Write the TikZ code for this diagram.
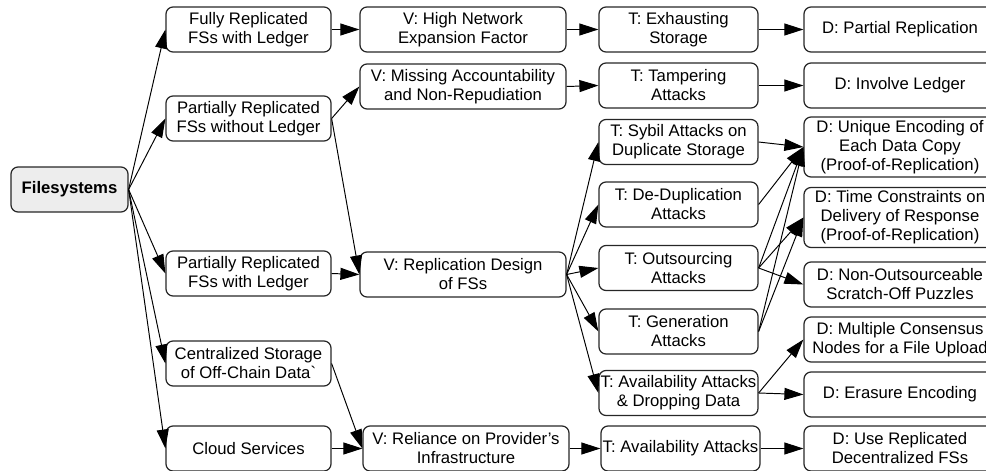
\documentclass[tikz,border=0pt]{standalone}
\usepackage{fontspec}
\setmainfont{Liberation Sans}
\usetikzlibrary{arrows.meta}
\begin{document}
\begin{tikzpicture}[
  box/.style={draw=black!85,line width=0.7pt,rounded corners=4pt,align=center,
    inner sep=0pt,minimum height=0.9cm,font=\fontsize{9.5}{10.8}\selectfont},
  sysbox/.style={box,minimum width=3.3cm},
  vulnbox/.style={box,minimum width=4.12cm},
  threatbox/.style={box,minimum width=3.18cm},
  defbox/.style={box,minimum width=3.84cm},
  link/.style={-{Triangle[length=0.38cm,width=0.24cm]},line width=0.55pt}
]
\useasboundingbox (0,0) rectangle (19.72,9.4);

% Root
\node[box,fill=black!7,minimum width=2.34cm,font=\fontsize{9.5}{10.8}\selectfont\bfseries] (fs) at (1.39,5.61) {Filesystems};

% Kinds of filesystems
\node[sysbox] (frl)   at (4.97,8.81) {Fully Replicated\\FSs with Ledger};
\node[sysbox] (prnol) at (4.97,7.03) {Partially Replicated\\FSs without Ledger};
\node[sysbox] (prl)   at (4.97,3.93) {Partially Replicated\\FSs with Ledger};
\node[sysbox] (cs)    at (4.97,2.13) {Centralized Storage\\of Off-Chain Data\textasciigrave};
\node[sysbox] (cloud) at (4.97,0.43) {Cloud Services};

% Vulnerabilities
\node[vulnbox] (vnet) at (9.26,8.81) {V: High Network\\Expansion Factor};
\node[vulnbox] (vacc) at (9.26,7.67) {V: Missing Accountability\\and Non-Repudiation};
\node[vulnbox] (vrep) at (9.26,3.91) {V: Replication Design\\of FSs};
\node[vulnbox] (vrel) at (9.32,0.43) {V: Reliance on Provider's\\Infrastructure};

% Threats
\node[threatbox] (texh)   at (13.57,8.81) {T: Exhausting\\Storage};
\node[threatbox] (ttam)   at (13.57,7.69) {T: Tampering\\Attacks};
\node[threatbox] (tsyb)   at (13.57,6.56) {T: Sybil Attacks on\\Duplicate Storage};
\node[threatbox] (tdedup) at (13.57,5.31) {T: De-Duplication\\Attacks};
\node[threatbox] (tout)   at (13.57,4.04) {T: Outsourcing\\Attacks};
\node[threatbox] (tgen)   at (13.57,2.77) {T: Generation\\Attacks};
\node[threatbox] (tdrop)  at (13.57,1.54) {T: Availability Attacks\\\& Dropping Data};
\node[threatbox] (tavail) at (13.61,0.43) {T: Availability Attacks};

% Defenses
\node[defbox] (dpart) at (18.0,8.81) {D: Partial Replication};
\node[defbox] (dledg) at (18.0,7.69) {D: Involve Ledger};
\node[defbox,minimum height=1.2cm] (duniq) at (18.0,6.46) {D: Unique Encoding of\\Each Data Copy\\(Proof-of-Replication)};
\node[defbox,minimum height=1.2cm] (dtime) at (18.0,5.05) {D: Time Constraints on\\Delivery of Response\\(Proof-of-Replication)};
\node[defbox] (dnono) at (18.0,3.71) {D: Non-Outsourceable\\Scratch-Off Puzzles};
\node[defbox] (dmult) at (18.0,2.61) {D: Multiple Consensus\\Nodes for a File Upload};
\node[defbox] (deras) at (18.0,1.51) {D: Erasure Encoding};
\node[defbox] (drepl) at (18.0,0.43) {D: Use Replicated\\Decentralized FSs};

% Root to kinds
\foreach \t in {frl,prnol,prl,cs,cloud}
  \draw[link] (fs.east) -- (\t.west);

% Kinds to vulnerabilities
\draw[link] (frl.east) -- (vnet.west);
\draw[link] (prnol.east) -- (vacc.west);
\draw[link] (prnol.east) -- (vrep.west);
\draw[link] (prl.east) -- (vrep.west);
\draw[link] (cs.east) -- (vrel.west);
\draw[link] (cloud.east) -- (vrel.west);

% Vulnerabilities to threats
\draw[link] (vnet.east) -- (texh.west);
\draw[link] (vacc.east) -- (ttam.west);
\foreach \t in {tsyb,tdedup,tout,tgen,tdrop}
  \draw[link] (vrep.east) -- (\t.west);
\draw[link] (vrel.east) -- (tavail.west);

% Threats to defenses
\draw[link] (texh.east) -- (dpart.west);
\draw[link] (ttam.east) -- (dledg.west);
\draw[link] (tsyb.east) -- (duniq.west);
\draw[link] (tdedup.east) -- (duniq.west);
\draw[link] (tout.east) -- (duniq.west);
\draw[link] (tout.east) -- (dtime.west);
\draw[link] (tout.east) -- (dnono.west);
\draw[link] (tgen.east) -- (duniq.west);
\draw[link] (tgen.east) -- (dtime.west);
\draw[link] (tdrop.east) -- (dmult.west);
\draw[link] (tdrop.east) -- (deras.west);
\draw[link] (tavail.east) -- (drepl.west);

\end{tikzpicture}
\end{document}
